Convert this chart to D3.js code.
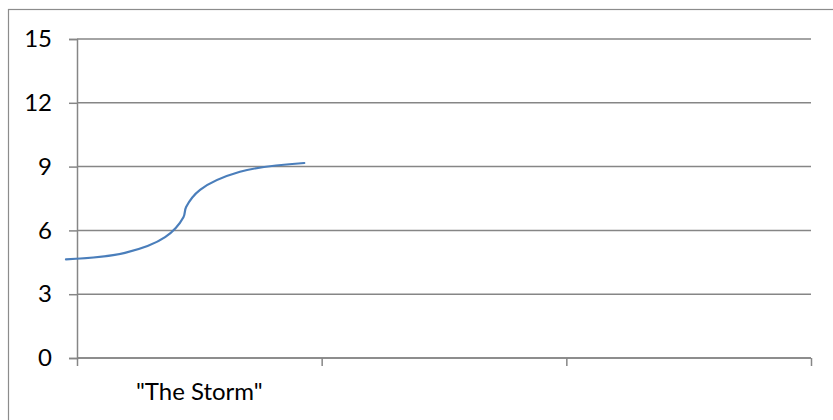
<!DOCTYPE html>
<html>
<head>
<meta charset="utf-8">
<script src="https://cdn.jsdelivr.net/npm/d3@7"></script>
<style>
  html, body { margin: 0; padding: 0; background: #fff; }
  svg { display: block; }
  text { font-family: Lato, "Open Sans", sans-serif; fill: #000; }
</style>
</head>
<body>
<svg id="chart" width="833" height="420"></svg>
<script>
// Category axis: three bands, only the first one labelled
const categories = ['"The Storm"', "", ""];

// Value axis ticks
const yTicks = [0, 3, 6, 9, 12, 15];

// Smoothed series, x in category units measured from the axis origin
const seriesX = [-0.045, 0.196, 0.360, 0.435, 0.446, 0.503, 0.666, 0.929];
const seriesY = [4.64, 4.94, 5.68, 6.62, 7.10, 7.91, 8.76, 9.17];

const svg = d3.select("#chart");
const W = 833, H = 420;
const plot = { left: 77, right: 811, top: 39, bottom: 358 };
const gridColor = "#868686";
const fontSize = "24px";

// Chart area frame
svg.append("rect")
  .attr("x", 8.5).attr("y", 9.5)
  .attr("width", W + 20).attr("height", H + 20)
  .attr("fill", "#fff")
  .attr("stroke", "#8c8c8c").attr("stroke-width", 1.2);

const y = d3.scaleLinear().domain([0, 15]).range([plot.bottom, plot.top]);
const xBand = d3.scaleBand().domain(d3.range(categories.length))
  .range([plot.left, plot.right]).paddingInner(0).paddingOuter(0);
const xVal = d3.scaleLinear().domain([0, categories.length]).range([plot.left, plot.right]);

// Horizontal gridlines
svg.append("g")
  .selectAll("line")
  .data(yTicks)
  .join("line")
  .attr("x1", plot.left).attr("x2", plot.right)
  .attr("y1", d => y(d)).attr("y2", d => y(d))
  .attr("stroke", gridColor).attr("stroke-width", 1.5);

// Value axis
const yAxis = svg.append("g")
  .attr("transform", `translate(${plot.left},0)`)
  .call(d3.axisLeft(y).tickValues(yTicks).tickSize(8).tickPadding(17));
yAxis.select(".domain").attr("stroke", gridColor).attr("stroke-width", 1.5);
yAxis.selectAll(".tick line").attr("stroke", gridColor).attr("stroke-width", 1.5);
yAxis.selectAll(".tick text")
  .style("font-family", "Lato, 'Open Sans', sans-serif")
  .style("font-size", fontSize).attr("fill", "#000");

// Category axis: ticks at band boundaries, labels centred in each band
const xAxis = svg.append("g")
  .attr("transform", `translate(0,${plot.bottom})`)
  .call(d3.axisBottom(xVal).tickValues(d3.range(categories.length + 1))
    .tickSize(8).tickFormat(""));
xAxis.select(".domain").attr("stroke", gridColor).attr("stroke-width", 1.5)
  .attr("d", `M${plot.left},0H${plot.right}`);
xAxis.selectAll(".tick line").attr("stroke", gridColor).attr("stroke-width", 1.5);

svg.append("g")
  .selectAll("text")
  .data(categories)
  .join("text")
  .attr("x", (d, i) => xBand(i) + xBand.bandwidth() / 2)
  .attr("y", 400)
  .attr("text-anchor", "middle")
  .style("font-size", fontSize)
  .text(d => d);

// Series line
const pts = seriesX.map((v, i) => [xVal(v), y(seriesY[i])]);
svg.append("path")
  .attr("d", d3.line().curve(d3.curveCatmullRom.alpha(0.5))(pts))
  .attr("fill", "none")
  .attr("stroke", "#4a7ebb")
  .attr("stroke-width", 2.2)
  .attr("stroke-linecap", "round");
</script>
</body>
</html>
